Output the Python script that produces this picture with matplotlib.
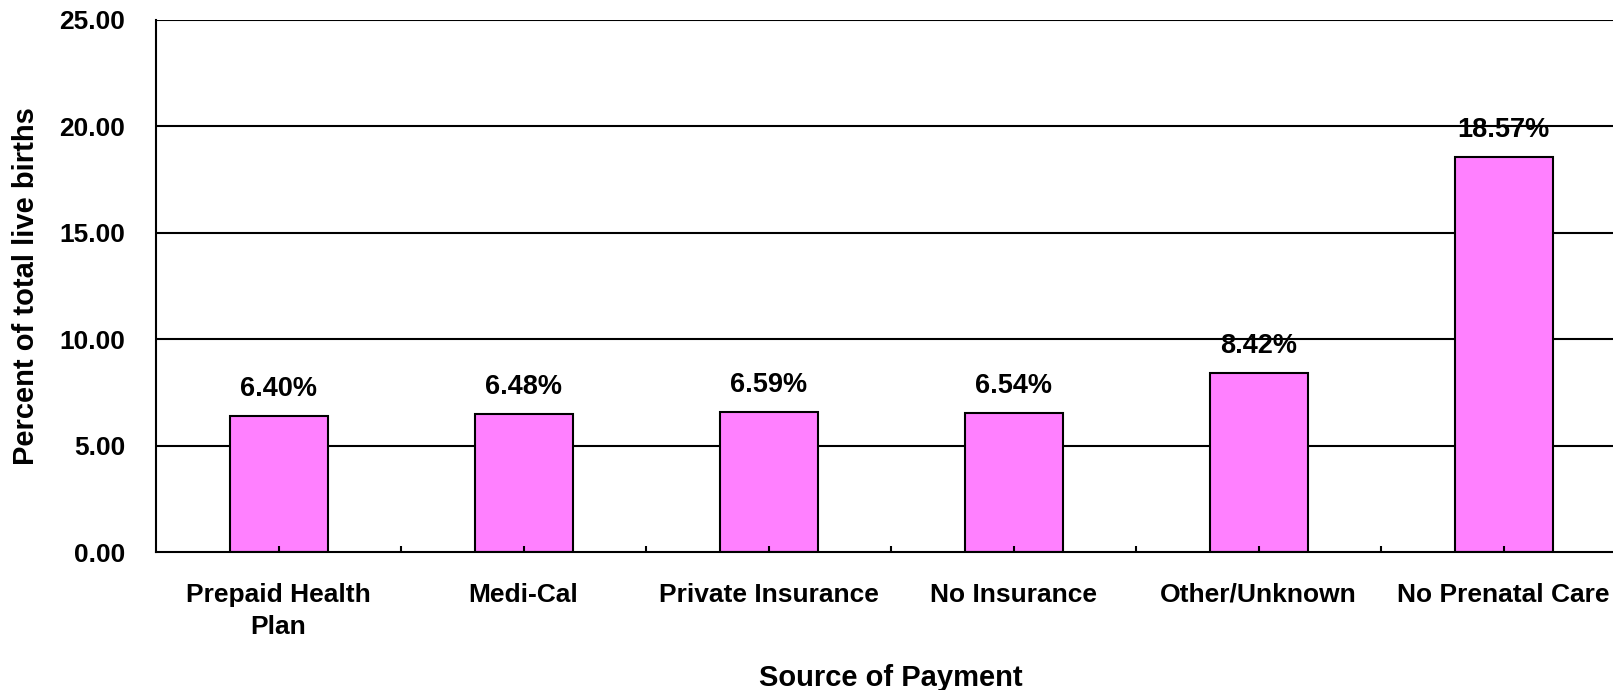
import numpy as np
import matplotlib.pyplot as plt

categories = ["Prepaid Health\nPlan", "Medi-Cal", "Private Insurance",
              "No Insurance", "Other/Unknown", "No Prenatal Care"]
percent = [6.40, 6.48, 6.59, 6.54, 8.42, 18.57]
yticks = [0, 5, 10, 15, 20, 25]

plt.rcParams['font.family'] = ['Liberation Sans', 'DejaVu Sans']
plt.rcParams['font.weight'] = 'bold'

fig = plt.figure(figsize=(16.13, 6.90), dpi=100)
# axes runs a little past the right edge, as in the original
ax = fig.add_axes([156 / 1613, (690 - 552) / 690, 1470 / 1613, 532 / 690])

x = np.arange(len(categories))
# gridlines behind the bars, ticks in front
for t in yticks[1:]:
    ax.axhline(t, color="black", linewidth=1.5, zorder=1)
bars = ax.bar(x, percent, width=0.4, color="#FF80FF", edgecolor="black",
              linewidth=1.5, zorder=2)

for rect, v in zip(bars, percent):
    ax.annotate(f"{v:.2f}%", (rect.get_x() + rect.get_width() / 2, v),
                xytext=(0, 10), textcoords="offset points",
                ha="center", va="bottom", fontsize=19.5, fontweight="bold",
                zorder=4)

ax.set_axisbelow(False)
ax.set_xlim(-0.5, len(categories) - 0.5)
ax.set_ylim(0, 25)
ax.set_yticks(yticks)
ax.set_yticklabels([f"{t:.2f}" for t in yticks])

ax.set_xticks(x)
ax.set_xticklabels(categories, linespacing=1.45)
ax.set_xticks(np.arange(0.5, len(categories), 0.5), minor=True)
ax.tick_params(axis="x", which="both", direction="in", length=4.5, width=1.5,
               labelsize=19, pad=22)
ax.tick_params(axis="y", length=0, labelsize=19, pad=22)

for s in ["top", "right"]:
    ax.spines[s].set_visible(False)
for s in ["left", "bottom"]:
    ax.spines[s].set_linewidth(1.5)
    ax.spines[s].set_zorder(3)

ax.set_xlabel("Source of Payment", fontsize=21, fontweight="bold", labelpad=18)
ax.set_ylabel("Percent of total live births", fontsize=21, fontweight="bold",
              labelpad=14)

fig.savefig("out.png", dpi=100)
